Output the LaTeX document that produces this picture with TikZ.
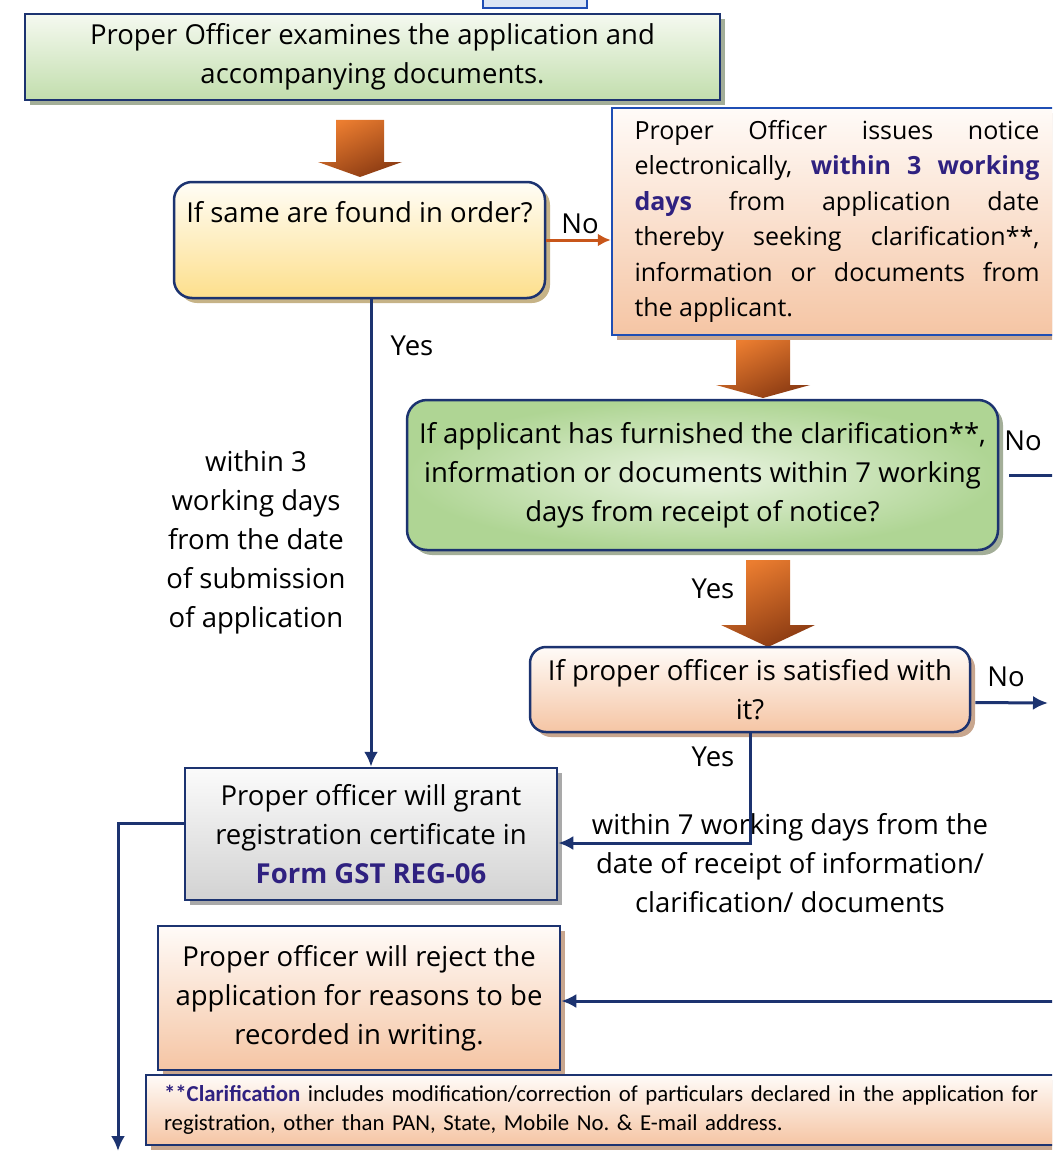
\documentclass[tikz,border=0pt]{standalone}
\usepackage{fontspec}
\setmainfont{Open Sans}
\newfontfamily\fnfont{Carlito}
\usetikzlibrary{calc}
\usetikzlibrary{shadows}
\usetikzlibrary{arrows.meta}

\definecolor{navy}{HTML}{1C3370}
\definecolor{blueB}{HTML}{1F4EB4}
\definecolor{lightblue}{HTML}{DCE6F4}
\definecolor{purpleT}{HTML}{2F2180}
\definecolor{orangeL}{HTML}{C8561A}
\definecolor{orangeA}{HTML}{EB7D30}
\definecolor{brownA}{HTML}{8A3A12}
\definecolor{greenTop}{HTML}{F5F9F0}
\definecolor{greenBot}{HTML}{C2DEAD}
\definecolor{greenIn}{HTML}{EAF4E2}
\definecolor{greenOut}{HTML}{AFD594}
\definecolor{yellowTop}{HTML}{FFFDF6}
\definecolor{yellowBot}{HTML}{FDDF8C}
\definecolor{peachTop}{HTML}{FFFBF8}
\definecolor{peachBot}{HTML}{F5C5A4}
\definecolor{grayTop}{HTML}{FBFBFB}
\definecolor{grayBot}{HTML}{D2D2D2}
\definecolor{shGreen}{HTML}{A3AE98}
\definecolor{shTan}{HTML}{C6B387}
\definecolor{shPeach}{HTML}{C8A68E}
\definecolor{shGray}{HTML}{A9A9A9}

\tikzset{box/.style={draw=navy, line width=2.5pt, align=center, inner sep=4pt,
  font=\fontsize{27.5}{39}\selectfont}}
\tikzset{shade/.style={drop shadow={shadow xshift=5pt, shadow yshift=-5pt, opacity=1, fill=#1}}}
\tikzset{greenbox/.style={box, top color=greenTop, bottom color=greenBot, shade=shGreen}}
\tikzset{peachbox/.style={box, top color=peachTop, bottom color=peachBot, shade=shPeach}}
\tikzset{query/.style={box, rounded corners=18pt}}
\tikzset{lbl/.style={align=center, inner sep=0pt, font=\fontsize{27.5}{39}\selectfont}}
\tikzset{link/.style={draw=navy, line width=3pt, -{Latex[length=15pt,width=14pt]}}}
\tikzset{olink/.style={draw=orangeL, line width=3pt, -{Latex[length=13pt,width=13pt]}}}
\tikzset{blockarr/.style={top color=orangeA, bottom color=brownA, shading angle=25}}

\newcommand{\blockarrow}[6]{% centre x, top, head base, tip, shaft half, head half
  \path[blockarr] ({#1-#5},#2) -- ({#1+#5},#2) -- ({#1+#5},#3) -- ({#1+#6},#3)
    -- (#1,#4) -- ({#1-#6},#3) -- ({#1-#5},#3) -- cycle;}

\begin{document}
\begin{tikzpicture}[x=1pt, y=-1pt]
\useasboundingbox (0,0) rectangle (1052,1153);
\clip (0,0) rectangle (1052,1153);

\node[draw=blueB, line width=1.5pt, fill=lightblue, minimum width=104, minimum height=22] (top) at (535,-3) {};

\node[greenbox, minimum width=695, minimum height=86] (exam) at (372.5,57)
  {Proper Officer examines the application and\\accompanying documents.};

\blockarrow{360}{120}{162}{177}{24}{42}

\node[query, top color=yellowTop, bottom color=yellowBot, shade=shTan,
  minimum width=371, minimum height=116, text height=22pt, text depth=58pt] (found) at (359.5,240)
  {If same are found in order?};

\node[peachbox, draw=blueB, minimum width=450, minimum height=227, text width=405,
  align=justify, font=\fontsize{25}{35.5}\selectfont] (notice) at (837,221.5)
  {Proper Officer issues notice\linebreak electronically, \textbf{\color{purpleT}within 3 working\linebreak days}
  from application date\linebreak thereby seeking clarification**,\linebreak information or documents from\linebreak the applicant.};

\blockarrow{763}{340}{385}{398}{27}{47}

\node[query, rounded corners=20pt, inner color=greenIn, outer color=greenOut, shade=shGreen,
  minimum width=591, minimum height=150] (furnish) at (702.5,475)
  {If applicant has furnished the clarification**,\\information or documents within 7 working\\days from receipt of notice?};

\blockarrow{768}{560}{625}{647}{22}{47}

\node[query, rounded corners=16pt, top color=peachTop, bottom color=peachBot, shade=shPeach,
  minimum width=440, minimum height=85] (satisfied) at (750,689.5)
  {If proper officer is satisfied with\\it?};

\node[box, top color=grayTop, bottom color=grayBot, shade=shGray,
  minimum width=372, minimum height=132] (grant) at (371,834)
  {Proper officer will grant\\registration certificate in\\\textbf{\color{purpleT}Form GST REG-06}};

\node[peachbox, minimum width=402, minimum height=144] (reject) at (359,998)
  {Proper officer will reject the\\application for reasons to be\\recorded in writing.};

\node[peachbox, minimum width=917, minimum height=70, text width=881, align=left,
  font=\fnfont\fontsize{22.8}{29}\selectfont] (note) at (604.5,1110)
  {\textbf{\color{purpleT}**Clarification} includes modification/correction of particulars declared in the application for\\
  registration, other than PAN, State, Mobile No.\ \& E-mail address.};

% labels
\node[lbl] (noA) at (580,224) {No};
\node[lbl] (yesA) at (412,346) {Yes};
\node[lbl] (daysA) at (256,542) {within 3\\working days\\from the date\\of submission\\of application};
\node[lbl] (noB) at (1023,441) {No};
\node[lbl] (yesB) at (713,589) {Yes};
\node[lbl] (noC) at (1006,677) {No};
\node[lbl] (yesC) at (713,757) {Yes};
\node[lbl] (daysB) at (790,863) {within 7 working days from the\\date of receipt of information/\\clarification/ documents};

\coordinate (edgeB) at (1060,475);
\coordinate (edgeC) at (1048,703);
\coordinate (edgeD) at (1060,1001);
\coordinate (edgeE) at (118,1151);

% connectors
\draw[olink] (found.east) -- (found.east -| notice.west);
\draw[link] (grant.north |- found.south) -- (grant.north);
\draw[link] (satisfied.south) |- ([yshift=-9pt]grant.east);
\draw[link, -, shorten <=10pt] (furnish.east) -- (edgeB);
\draw[link, shorten <=4pt] ([yshift=-13pt]satisfied.east) -- (edgeC);
\draw[link] (edgeD) -- (edgeD -| reject.east);
\draw[link] ([yshift=11pt]grant.west) -| (edgeE);
\end{tikzpicture}
\end{document}
